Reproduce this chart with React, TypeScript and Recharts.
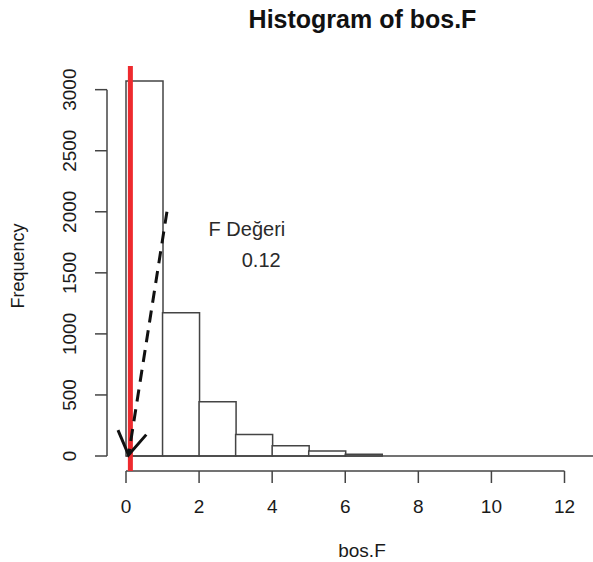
import React from 'react';
import { ComposedChart, Bar, XAxis, YAxis, ReferenceLine, ReferenceDot } from 'recharts';

// Histogram bins (lower edges, width 1) and counts
const binStarts = [0, 1, 2, 3, 4, 5, 6, 7, 8, 9, 10, 11, 12];
const counts = [3071, 1173, 444, 177, 84, 41, 15, 0, 0, 0, 0, 0, 0];
const binWidth = 1;

const xTicks = [0, 2, 4, 6, 8, 10, 12];
const yTicks = [0, 500, 1000, 1500, 2000, 2500, 3000];

const fValue = 0.12;
const arrowFrom = { x: 1.12, y: 2000 };
const arrowTo = { x: 0.07, y: 8 };
const labelName = { x: 3.31, y: 1857, text: 'F Değeri' };
const labelValue = { x: 3.7, y: 1603, text: String(fValue) };

const xDomain = [-0.52, 12.78];
const yDomain = [-122.8, 3193.8];

const data = binStarts.map((s, i) => ({ mid: s + binWidth / 2, count: counts[i] }));
const lastEdge = binStarts[binStarts.length - 1] + binWidth;

const FONT = '"Liberation Sans", Arial, sans-serif';
const LINE = '#444444';
const TEXT = '#1a1a1a';

const XTick = (props: any) => {
  const { x, y, payload } = props;
  return (
    <text x={x} y={y + 28} textAnchor="middle" fontSize={19} fill={TEXT} fontFamily={FONT}>
      {payload.value}
    </text>
  );
};

const YTick = (props: any) => {
  const { x, y, payload } = props;
  const bx = x - 17;
  return (
    <text
      x={bx}
      y={y}
      transform={`rotate(-90 ${bx} ${y})`}
      textAnchor="middle"
      fontSize={19}
      fill={TEXT}
      fontFamily={FONT}
    >
      {payload.value}
    </text>
  );
};

const ArrowShape = (props: any) => {
  const { x1, y1, x2, y2 } = props;
  const dx = x1 - x2;
  const dy = y1 - y2;
  const len = Math.sqrt(dx * dx + dy * dy) || 1;
  const ux = dx / len;
  const uy = dy / len;
  const head = 27;
  const ang = (32 * Math.PI) / 180;
  const rot = (a: number) => ({
    x: x2 + head * (ux * Math.cos(a) - uy * Math.sin(a)),
    y: y2 + head * (ux * Math.sin(a) + uy * Math.cos(a)),
  });
  const b1 = rot(ang);
  const b2 = rot(-ang);
  return (
    <g>
      <line x1={x1} y1={y1} x2={x2} y2={y2} stroke="#111" strokeWidth={3} strokeDasharray="12 8" />
      <polyline
        points={`${b1.x},${b1.y} ${x2},${y2} ${b2.x},${b2.y}`}
        fill="none"
        stroke="#111"
        strokeWidth={3}
      />
    </g>
  );
};

const makeTextShape = (text: string) => (props: any) => (
  <text
    x={props.cx}
    y={props.cy}
    dy="0.35em"
    textAnchor="middle"
    fontSize={20}
    fill="#2a2a2a"
    fontFamily={FONT}
  >
    {text}
  </text>
);

export default function App() {
  return (
    <div style={{ position: 'absolute', left: 0, top: 0, fontFamily: FONT }}>
      <ComposedChart
        width={593}
        height={562}
        data={data}
        margin={{ top: 66, right: 0, left: 0, bottom: 0 }}
        barCategoryGap={0}
        barGap={0}
      >
        <XAxis
          dataKey="mid"
          type="number"
          domain={xDomain}
          allowDataOverflow
          ticks={xTicks}
          interval={0}
          height={91}
          axisLine={false}
          tickLine={{ stroke: LINE, strokeWidth: 1.5 }}
          tickSize={12}
          tick={<XTick />}
        />
        <YAxis
          type="number"
          domain={yDomain}
          allowDataOverflow
          ticks={yTicks}
          interval={0}
          width={107}
          axisLine={false}
          tickLine={{ stroke: LINE, strokeWidth: 1.5 }}
          tickSize={12}
          tick={<YTick />}
        />
        <Bar
          dataKey="count"
          fill="#ffffff"
          stroke={LINE}
          strokeWidth={1.5}
          isAnimationActive={false}
        />
        <ReferenceLine
          segment={[{ x: binStarts[0], y: 0 }, { x: lastEdge, y: 0 }]}
          stroke={LINE}
          strokeWidth={1.5}
          ifOverflow="hidden"
        />
        <ReferenceLine
          segment={[{ x: xTicks[0], y: yDomain[0] }, { x: xTicks[xTicks.length - 1], y: yDomain[0] }]}
          stroke={LINE}
          strokeWidth={1.5}
          ifOverflow="visible"
        />
        <ReferenceLine
          segment={[{ x: xDomain[0], y: yTicks[0] }, { x: xDomain[0], y: yTicks[yTicks.length - 1] }]}
          stroke={LINE}
          strokeWidth={1.5}
          ifOverflow="visible"
        />
        <ReferenceLine x={fValue} stroke="#ee2a2e" strokeWidth={5} ifOverflow="visible" />
        <ReferenceLine
          segment={[arrowFrom, arrowTo]}
          ifOverflow="visible"
          shape={<ArrowShape />}
        />
        <ReferenceDot
          x={labelName.x}
          y={labelName.y}
          r={0}
          ifOverflow="visible"
          shape={makeTextShape(labelName.text)}
        />
        <ReferenceDot
          x={labelValue.x}
          y={labelValue.y}
          r={0}
          ifOverflow="visible"
          shape={makeTextShape(labelValue.text)}
        />
        <text x={362.5} y={28} textAnchor="middle" fontSize={25} fontWeight="bold" fill="#111" fontFamily={FONT}>
          Histogram of bos.F
        </text>
        <text x={362} y={557} textAnchor="middle" fontSize={19} fill={TEXT} fontFamily={FONT}>
          bos.F
        </text>
        <text
          x={24}
          y={266}
          transform="rotate(-90 24 266)"
          textAnchor="middle"
          fontSize={18}
          fill={TEXT}
          fontFamily={FONT}
        >
          Frequency
        </text>
      </ComposedChart>
    </div>
  );
}
